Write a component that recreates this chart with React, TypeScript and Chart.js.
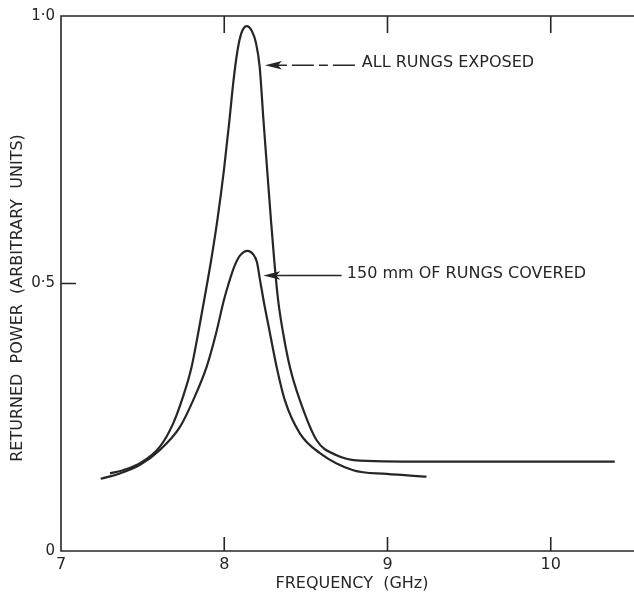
import React, { useEffect, useRef } from "react";
import { Chart, registerables } from "chart.js";

Chart.register(...registerables);

// ---- data ----
const exposedFreq = [7.300, 7.381, 7.484, 7.606, 7.688, 7.747, 7.800, 7.836, 7.877, 7.920, 7.958, 7.998, 8.032, 8.057, 8.081, 8.104, 8.137, 8.169, 8.194, 8.217, 8.240, 8.263, 8.286, 8.306, 8.330, 8.361, 8.402, 8.463, 8.566, 8.688, 8.831, 9.320, 10.392];
const exposedPower = [0.145, 0.151, 0.164, 0.195, 0.239, 0.288, 0.344, 0.400, 0.469, 0.544, 0.619, 0.712, 0.806, 0.880, 0.935, 0.967, 0.981, 0.972, 0.950, 0.905, 0.806, 0.712, 0.619, 0.544, 0.469, 0.407, 0.344, 0.282, 0.207, 0.179, 0.169, 0.167, 0.167];

const coveredFreq = [7.243, 7.361, 7.484, 7.606, 7.729, 7.810, 7.892, 7.950, 7.998, 8.027, 8.062, 8.096, 8.143, 8.176, 8.200, 8.220, 8.243, 8.280, 8.321, 8.371, 8.463, 8.586, 8.790, 8.994, 9.239];
const coveredPower = [0.135, 0.145, 0.161, 0.189, 0.232, 0.282, 0.344, 0.407, 0.469, 0.500, 0.532, 0.552, 0.561, 0.555, 0.540, 0.505, 0.465, 0.407, 0.344, 0.282, 0.220, 0.183, 0.151, 0.144, 0.139];

const xTickValues = [7, 8, 9, 10];
const yTickValues = [0, 0.5, 1];
const yTickLabels = ["0", "0·5", "1·0"];

const xTitle = "FREQUENCY  (GHz)";
const yTitle = "RETURNED  POWER  (ARBITRARY  UNITS)";

// annotations: [arrow tip x, tip y, arrow tail x, text x]
const labelExposed = "ALL RUNGS EXPOSED";
const arrowExposed = [8.249, 0.908, 8.81, 8.843];
const labelCovered = "150 mm OF RUNGS COVERED";
const arrowCovered = [8.239, 0.515, 8.719, 8.751];

const INK = "#262626";
const FONT = "'DejaVu Sans', sans-serif";

function drawArrow(ctx: CanvasRenderingContext2D, tipX: number, tipY: number, tailX: number, dashed: boolean) {
  const headLen = 17;
  const half = 4.2;
  ctx.save();
  ctx.fillStyle = INK;
  ctx.strokeStyle = INK;
  ctx.lineWidth = 1.6;
  ctx.beginPath();
  ctx.moveTo(tipX, tipY);
  ctx.lineTo(tipX + headLen, tipY - half);
  ctx.lineTo(tipX + headLen - 4, tipY);
  ctx.lineTo(tipX + headLen, tipY + half);
  ctx.closePath();
  ctx.fill();
  if (dashed) ctx.setLineDash([9, 5, 22, 5]);
  ctx.beginPath();
  ctx.moveTo(tipX + headLen - 4, tipY);
  ctx.lineTo(tailX, tipY);
  ctx.stroke();
  ctx.restore();
}

const paperPlugin = {
  id: "paper",
  afterDraw(chart: any) {
    const { ctx, chartArea: a, scales } = chart;
    const x = scales.x;
    const y = scales.y;
    ctx.save();
    ctx.strokeStyle = INK;
    ctx.lineWidth = 1.6;
    ctx.beginPath();
    ctx.moveTo(a.right, a.top);
    ctx.lineTo(a.left, a.top);
    ctx.lineTo(a.left, a.bottom);
    ctx.lineTo(a.right, a.bottom);
    ctx.stroke();

    // inward tick marks
    ctx.beginPath();
    xTickValues.slice(1).forEach((v) => {
      const px = x.getPixelForValue(v);
      ctx.moveTo(px, a.top);
      ctx.lineTo(px, a.top + 17);
      ctx.moveTo(px, a.bottom);
      ctx.lineTo(px, a.bottom - 14);
    });
    const yMid = y.getPixelForValue(0.5);
    ctx.moveTo(a.left, yMid);
    ctx.lineTo(a.left + 15, yMid);
    ctx.stroke();

    // axis titles
    ctx.fillStyle = INK;
    ctx.font = `16px ${FONT}`;
    ctx.textAlign = "center";
    ctx.textBaseline = "middle";
    ctx.fillText(xTitle, 352, 584);
    ctx.save();
    ctx.translate(18, 298);
    ctx.rotate(-Math.PI / 2);
    ctx.fillText(yTitle, 0, 0);
    ctx.restore();

    // annotations
    const ann: [string, number[], boolean][] = [
      [labelExposed, arrowExposed, true],
      [labelCovered, arrowCovered, false],
    ];
    ann.forEach(([text, p, dashed]) => {
      const tipX = x.getPixelForValue(p[0]);
      const tipY = y.getPixelForValue(p[1]);
      const tailX = x.getPixelForValue(p[2]);
      const textX = x.getPixelForValue(p[3]);
      drawArrow(ctx, tipX, tipY, tailX, dashed);
      ctx.textAlign = "left";
      ctx.textBaseline = "middle";
      ctx.font = `16px ${FONT}`;
      ctx.fillText(text, textX, tipY - 2);
    });
    ctx.restore();
  },
};

export default function App() {
  const ref = useRef<HTMLCanvasElement>(null);

  useEffect(() => {
    if (!ref.current) return;
    const toPoints = (xs: number[], ys: number[]) => xs.map((v, i) => ({ x: v, y: ys[i] }));
    const chart = new Chart(ref.current, {
      type: "scatter",
      data: {
        datasets: [
          {
            label: labelExposed,
            data: toPoints(exposedFreq, exposedPower),
            showLine: true,
            borderColor: INK,
            borderWidth: 2.2,
            pointRadius: 0,
            cubicInterpolationMode: "monotone",
          },
          {
            label: labelCovered,
            data: toPoints(coveredFreq, coveredPower),
            showLine: true,
            borderColor: INK,
            borderWidth: 2.2,
            pointRadius: 0,
            cubicInterpolationMode: "monotone",
          },
        ],
      },
      options: {
        responsive: false,
        animation: false,
        layout: { padding: { top: 16, left: 0, right: 0, bottom: 0 } },
        plugins: { legend: { display: false }, tooltip: { enabled: false } },
        scales: {
          x: {
            type: "linear",
            min: 7,
            max: 10.51,
            grid: { display: false, drawTicks: false },
            border: { display: false },
            afterBuildTicks: (s: any) => {
              s.ticks = xTickValues.map((v) => ({ value: v }));
            },
            afterFit: (s: any) => {
              s.height = 41;
            },
            ticks: {
              color: INK,
              font: { family: FONT, size: 16 },
              padding: 4,
              maxRotation: 0,
              autoSkip: false,
              callback: (v: any) => String(v),
            },
          },
          y: {
            type: "linear",
            min: 0,
            max: 1,
            grid: { display: false, drawTicks: false },
            border: { display: false },
            afterBuildTicks: (s: any) => {
              s.ticks = yTickValues.map((v) => ({ value: v }));
            },
            afterFit: (s: any) => {
              s.width = 61;
            },
            ticks: {
              color: INK,
              font: { family: FONT, size: 15 },
              padding: 6,
              autoSkip: false,
              callback: (v: any) => {
                const i = yTickValues.indexOf(Number(v));
                return i >= 0 ? yTickLabels[i] : "";
              },
            },
          },
        },
      },
      plugins: [paperPlugin],
    } as any);
    return () => chart.destroy();
  }, []);

  return (
    <div style={{ position: "fixed", left: 0, top: 0, width: 634, height: 592, background: "#fff" }}>
      <canvas ref={ref} width={634} height={592} style={{ width: 634, height: 592, display: "block" }} />
    </div>
  );
}
